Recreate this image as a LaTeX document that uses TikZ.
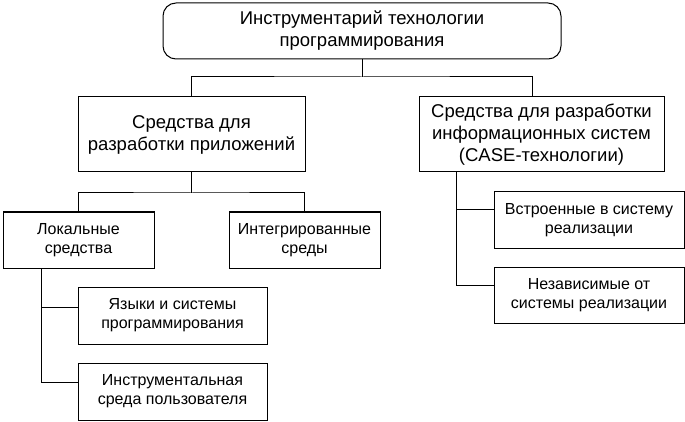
\documentclass[tikz,border=0pt]{standalone}
\usepackage{fontspec}
\setmainfont{Liberation Sans}
\begin{document}
\begin{tikzpicture}[x=1pt,y=-1pt,
  box/.style={draw,line width=1pt,inner sep=0pt,align=center},
  big/.style={font=\fontsize{18.5}{22}\selectfont},
  small/.style={font=\fontsize{16}{19}\selectfont},
  conn/.style={line width=1pt}]
\useasboundingbox (0,0) rectangle (685,422);
\node[box,big,rounded corners=13pt,minimum width=398pt,minimum height=56pt] (top) at (362,31)
  {Инструментарий технологии\\программирования};
\node[box,big,minimum width=227pt,minimum height=75pt] (L2a) at (191.5,134.5)
  {Средства для\\разработки приложений};
\node[box,big,minimum width=245pt,minimum height=75pt] (L2b) at (541.5,134.5)
  {Средства для разработки\\информационных систем\\(CASE-технологии)};
\node[box,small,minimum width=151pt,minimum height=56pt] (L3a) at (78.5,240)
  {Локальные\\средства};
\node[box,small,minimum width=151pt,minimum height=56pt] (L3b) at (304.5,240)
  {Интегрированные\\среды};
\node[box,small,minimum width=189pt,minimum height=57pt] (Yaz) at (172.5,315.5)
  {Языки и системы\\программирования};
\node[box,small,minimum width=189pt,minimum height=57pt] (Instr) at (172.5,391.5)
  {Инструментальная\\среда пользователя};
\node[box,small,minimum width=190pt,minimum height=56pt] (Vstr) at (589,220)
  {Встроенные в систему\\реализации};
\node[box,small,minimum width=190pt,minimum height=56pt] (Nez) at (589,295)
  {Независимые от\\системы реализации};
\coordinate (j1) at (362,77);
\coordinate (b2) at (532,97);
\draw[conn] (top.south) -- (j1);
\draw[conn] (L2a.north) |- (j1) -| (b2);
\coordinate (j2) at (191.5,193);
\draw[conn] (L2a.south) -- (j2);
\draw[conn] (L3a.north) |- (j2) -| (L3b.north);
\coordinate (lv) at (41,268);
\draw[conn] (lv) |- ([yshift=8.5pt]Yaz.west);
\draw[conn] (lv) |- ([yshift=9.5pt]Instr.west);
\coordinate (rv) at (456.5,172);
\draw[conn] (rv) |- ([yshift=10pt]Vstr.west);
\draw[conn] (rv) |- ([yshift=10pt]Nez.west);
\end{tikzpicture}
\end{document}
